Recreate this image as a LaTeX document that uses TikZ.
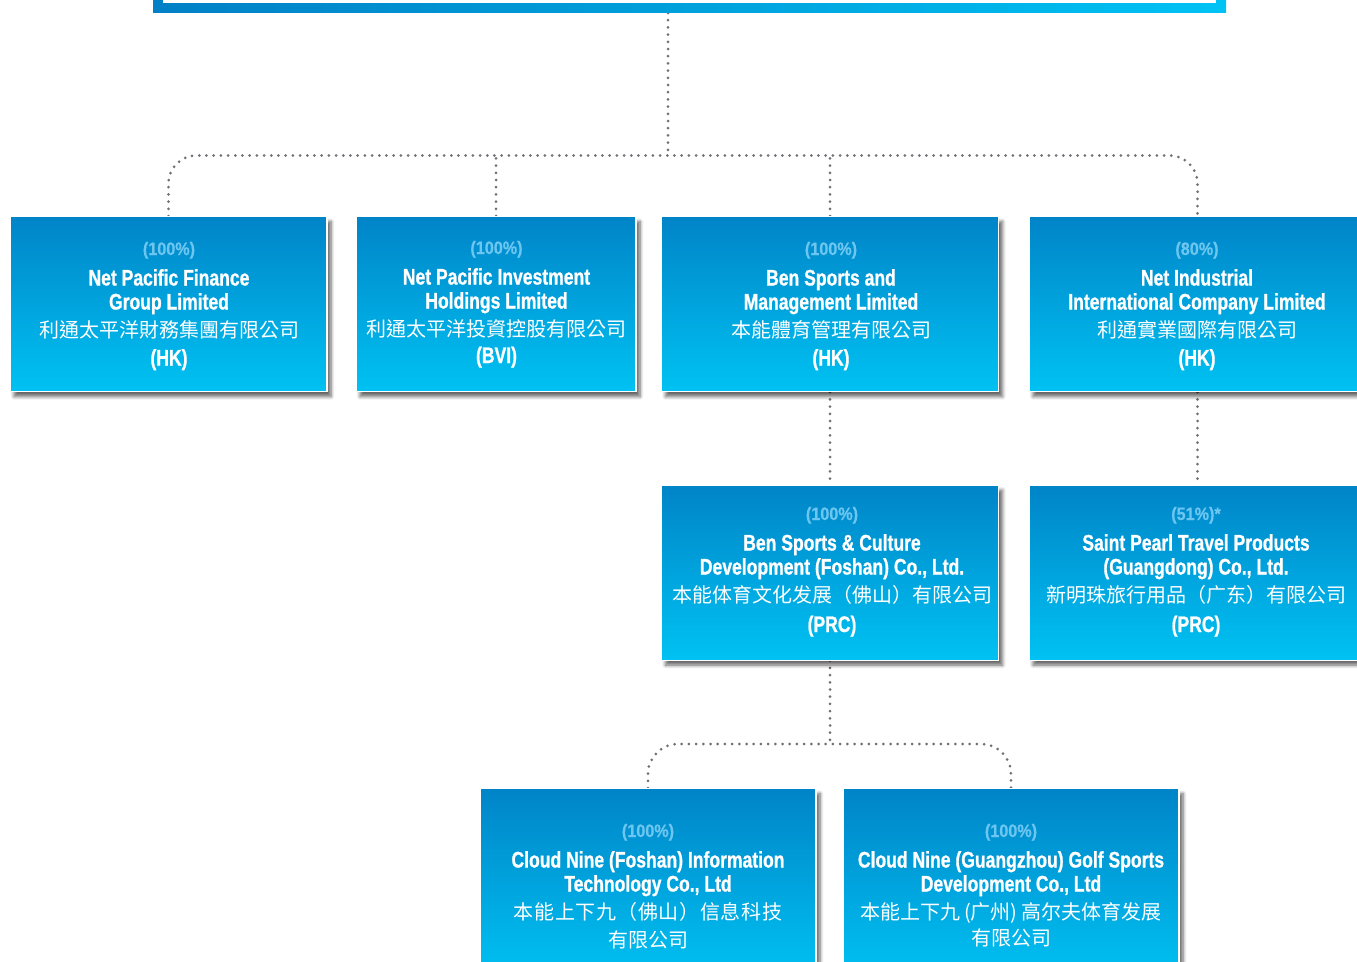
\documentclass[tikz,border=0pt]{standalone}
\usepackage{fontspec}
\setmainfont{Liberation Sans}
\newfontfamily\enfont[FakeStretch=0.78,FakeBold=0.9]{Liberation Sans Bold}
\newfontfamily\pcfont[FakeStretch=0.9,FakeBold=0.5]{Liberation Sans Bold}
\newfontfamily\scfont{Noto Sans CJK SC}
\newfontfamily\tcfont{Noto Sans CJK TC}
\usetikzlibrary{shadows.blur,backgrounds}
\definecolor{boxtop}{RGB}{0,132,200}
\definecolor{boxbot}{RGB}{0,194,242}
\definecolor{pctc}{RGB}{108,198,240}
\definecolor{dotc}{RGB}{112,112,118}
\definecolor{barl}{RGB}{0,128,198}
\definecolor{barr}{RGB}{0,194,244}
\tikzset{
  cobox/.style={draw=white, line width=1.2pt, top color=boxtop, bottom color=boxbot,
    minimum height=175pt, inner sep=0pt, anchor=north,
    blur shadow={shadow xshift=4pt, shadow yshift=-5pt, shadow blur radius=3.5pt,
      shadow blur steps=6, shadow opacity=60}},
  pct/.style={text=pctc, font=\pcfont\fontsize{18}{18}\selectfont, anchor=base, inner sep=0pt},
  en/.style={text=white, font=\enfont\fontsize{22.5}{22.5}\selectfont, anchor=base, inner sep=0pt},
  cn/.style={text=white, font=\scfont\fontsize{20}{20}\selectfont, anchor=base, inner sep=0pt},
  tc/.style={text=white, font=\tcfont\fontsize{20}{20}\selectfont, anchor=base, inner sep=0pt},
  conn/.style={draw=dotc, line width=3pt, line cap=round, dash pattern=on 0pt off 7.2pt},
}
% #1 name, #2 x, #3 baseline of percentage, #4 pct, #5 line1, #6 line2, #7 style, #8 chinese
\newcommand\ctext[8]{%
  \node[pct] (#1p) at (#2,#3) {#4};
  \node[en] (#1a) at (#2,#3+30.5) {#5};
  \node[en] (#1b) at (#2,#3+54.5) {#6};
  \node[#7] (#1c) at (#2,#3+82) {#8};
}
\begin{document}
\begin{tikzpicture}[x=1pt,y=-1pt]
\useasboundingbox (0,0) rectangle (1357,961);
% top bar
\node[minimum width=1073pt, minimum height=60pt, anchor=south west, inner sep=0pt,
      left color=barl, right color=barr] (topbar) at (153,13) {};
\fill[white] (163,-50) rectangle (1216,3);
\coordinate (topc) at (668,13);
\coordinate (hub) at (668,155.5);
\coordinate (hub2) at (830,744);
% boxes
\node[cobox, minimum width=317pt] (b1) at (168.5,216) {};
\node[cobox, minimum width=280pt] (b2) at (496,216) {};
\node[cobox, minimum width=337pt] (b3) at (830,216) {};
\node[cobox, minimum width=337pt] (b4) at (1197.5,216) {};
\node[cobox, minimum width=337pt] (b5) at (830,484.5) {};
\node[cobox, minimum width=337pt] (b6) at (1197.5,484.5) {};
\node[cobox, minimum width=336pt, minimum height=190pt] (b7) at (648,788) {};
\node[cobox, minimum width=336pt, minimum height=190pt] (b8) at (1011,788) {};
% connectors
\begin{scope}[on background layer]
\draw[conn] (topc) -- (hub);
\draw[conn, rounded corners=28pt] (b1.north) |- (hub) -| (b4.north);
\draw[conn] (b2.north) -- (b2.north |- hub);
\draw[conn] (b3.north) -- (b3.north |- hub);
\draw[conn] (b3.south) -- (b5.north);
\draw[conn] (b4.south) -- (b6.north);
\draw[conn] (b5.south) -- (hub2);
\draw[conn, rounded corners=30pt] (b7.north) |- (hub2) -| (b8.north);
\end{scope}
% texts
\ctext{t1}{169}{255}{(100\%)}{Net Pacific Finance}{Group Limited}{tc}{利通太平洋財務集團有限公司}
\node[en] (t1d) at (169,365.5) {(HK)};
\ctext{t2}{496.5}{254}{(100\%)}{Net Pacific Investment}{Holdings Limited}{tc}{利通太平洋投資控股有限公司}
\node[en] (t2d) at (496.5,363) {(BVI)};
\ctext{t3}{831}{255}{(100\%)}{Ben Sports and}{Management Limited}{tc}{本能體育管理有限公司}
\node[en] (t3d) at (831,365.5) {(HK)};
\ctext{t4}{1197}{255}{(80\%)}{Net Industrial}{International Company Limited}{tc}{利通實業國際有限公司}
\node[en] (t4d) at (1197,365.5) {(HK)};
\ctext{t5}{832}{520}{(100\%)}{Ben Sports \& Culture}{Development (Foshan) Co., Ltd.}{cn}{本能体育文化发展（佛山）有限公司}
\node[en] (t5d) at (832,632) {(PRC)};
\ctext{t6}{1196}{520}{(51\%)*}{Saint Pearl Travel Products}{(Guangdong) Co., Ltd.}{cn}{新明珠旅行用品（广东）有限公司}
\node[en] (t6d) at (1196,632) {(PRC)};
\ctext{t7}{648}{837}{(100\%)}{Cloud Nine (Foshan) Information}{Technology Co., Ltd}{cn}{\addfontfeature{LetterSpace=3.5}本能上下九（佛山）信息科技}
\node[cn] (t7d) at (648,947) {有限公司};
\ctext{t8}{1011}{837}{(100\%)}{Cloud Nine (Guangzhou) Golf Sports}{Development Co., Ltd}{cn}{本能上下九\,(广州)\,高尔夫体育发展}
\node[cn] (t8d) at (1011,945) {有限公司};
\end{tikzpicture}
\end{document}
